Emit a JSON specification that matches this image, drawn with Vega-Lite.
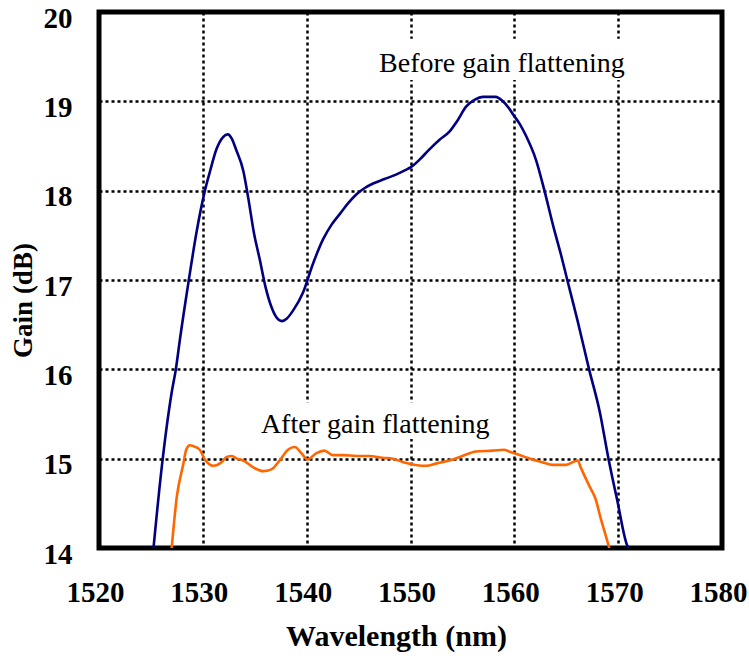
{
  "$schema": "https://vega.github.io/schema/vega-lite/v6.json",
  "autosize": "none",
  "width": 623,
  "height": 536,
  "padding": {"left": 99, "top": 12, "right": 27, "bottom": 113},
  "background": "white",
  "config": {
    "view": {"stroke": "black", "strokeWidth": 5},
    "font": "Liberation Serif"
  },
  "datasets": {
    "curves": [
      {"series": "Before", "wl": 1525.25, "gain": 14.0},
      {"series": "Before", "wl": 1526.0, "gain": 14.86},
      {"series": "Before", "wl": 1527.0, "gain": 15.74},
      {"series": "Before", "wl": 1527.4, "gain": 16.0},
      {"series": "Before", "wl": 1527.8, "gain": 16.34},
      {"series": "Before", "wl": 1528.65, "gain": 17.0},
      {"series": "Before", "wl": 1529.4, "gain": 17.54},
      {"series": "Before", "wl": 1530.2, "gain": 18.0},
      {"series": "Before", "wl": 1530.7, "gain": 18.22},
      {"series": "Before", "wl": 1531.3, "gain": 18.46},
      {"series": "Before", "wl": 1531.95, "gain": 18.6},
      {"series": "Before", "wl": 1532.4, "gain": 18.63},
      {"series": "Before", "wl": 1532.8, "gain": 18.58},
      {"series": "Before", "wl": 1533.2, "gain": 18.46},
      {"series": "Before", "wl": 1533.9, "gain": 18.22},
      {"series": "Before", "wl": 1534.4, "gain": 17.9},
      {"series": "Before", "wl": 1534.9, "gain": 17.54},
      {"series": "Before", "wl": 1535.5, "gain": 17.22},
      {"series": "Before", "wl": 1536.0, "gain": 16.94},
      {"series": "Before", "wl": 1536.6, "gain": 16.7},
      {"series": "Before", "wl": 1537.1, "gain": 16.58},
      {"series": "Before", "wl": 1537.6, "gain": 16.54},
      {"series": "Before", "wl": 1538.1, "gain": 16.57},
      {"series": "Before", "wl": 1538.7, "gain": 16.66},
      {"series": "Before", "wl": 1539.65, "gain": 16.86},
      {"series": "Before", "wl": 1540.6, "gain": 17.18},
      {"series": "Before", "wl": 1541.6, "gain": 17.46},
      {"series": "Before", "wl": 1542.4, "gain": 17.62},
      {"series": "Before", "wl": 1543.2, "gain": 17.74},
      {"series": "Before", "wl": 1544.0, "gain": 17.86},
      {"series": "Before", "wl": 1544.8, "gain": 17.96},
      {"series": "Before", "wl": 1545.6, "gain": 18.03},
      {"series": "Before", "wl": 1546.4, "gain": 18.08},
      {"series": "Before", "wl": 1547.5, "gain": 18.13},
      {"series": "Before", "wl": 1548.6, "gain": 18.18},
      {"series": "Before", "wl": 1549.5, "gain": 18.23},
      {"series": "Before", "wl": 1550.0, "gain": 18.26},
      {"series": "Before", "wl": 1550.9, "gain": 18.35},
      {"series": "Before", "wl": 1551.8, "gain": 18.46},
      {"series": "Before", "wl": 1552.8, "gain": 18.57},
      {"series": "Before", "wl": 1553.75, "gain": 18.66},
      {"series": "Before", "wl": 1554.5, "gain": 18.78},
      {"series": "Before", "wl": 1555.35, "gain": 18.94},
      {"series": "Before", "wl": 1556.2, "gain": 19.02},
      {"series": "Before", "wl": 1556.95, "gain": 19.05},
      {"series": "Before", "wl": 1558.2, "gain": 19.05},
      {"series": "Before", "wl": 1558.9, "gain": 19.0},
      {"series": "Before", "wl": 1559.5, "gain": 18.92},
      {"series": "Before", "wl": 1559.9, "gain": 18.85},
      {"series": "Before", "wl": 1560.5, "gain": 18.75},
      {"series": "Before", "wl": 1561.1, "gain": 18.62},
      {"series": "Before", "wl": 1562.1, "gain": 18.34},
      {"series": "Before", "wl": 1562.9, "gain": 18.0},
      {"series": "Before", "wl": 1563.8, "gain": 17.58},
      {"series": "Before", "wl": 1564.5, "gain": 17.28},
      {"series": "Before", "wl": 1565.1, "gain": 17.0},
      {"series": "Before", "wl": 1566.1, "gain": 16.54},
      {"series": "Before", "wl": 1567.2, "gain": 16.0},
      {"series": "Before", "wl": 1568.2, "gain": 15.54},
      {"series": "Before", "wl": 1569.1, "gain": 14.98},
      {"series": "Before", "wl": 1569.9, "gain": 14.54},
      {"series": "Before", "wl": 1570.9, "gain": 14.02},
      {"series": "Before", "wl": 1571.0, "gain": 14.0},
      {"series": "After", "wl": 1527.0, "gain": 14.0},
      {"series": "After", "wl": 1527.5, "gain": 14.58},
      {"series": "After", "wl": 1528.1, "gain": 14.93},
      {"series": "After", "wl": 1528.4, "gain": 15.1},
      {"series": "After", "wl": 1528.75, "gain": 15.15},
      {"series": "After", "wl": 1529.1, "gain": 15.14},
      {"series": "After", "wl": 1529.7, "gain": 15.1},
      {"series": "After", "wl": 1530.2, "gain": 14.99},
      {"series": "After", "wl": 1531.0, "gain": 14.92},
      {"series": "After", "wl": 1531.8, "gain": 14.96},
      {"series": "After", "wl": 1532.3, "gain": 15.02},
      {"series": "After", "wl": 1532.8, "gain": 15.03},
      {"series": "After", "wl": 1533.3, "gain": 15.0},
      {"series": "After", "wl": 1533.9, "gain": 14.98},
      {"series": "After", "wl": 1534.9, "gain": 14.9},
      {"series": "After", "wl": 1535.8, "gain": 14.86},
      {"series": "After", "wl": 1536.6, "gain": 14.88},
      {"series": "After", "wl": 1537.4, "gain": 14.98},
      {"series": "After", "wl": 1538.2, "gain": 15.1},
      {"series": "After", "wl": 1538.85, "gain": 15.13},
      {"series": "After", "wl": 1539.5, "gain": 15.06},
      {"series": "After", "wl": 1540.1, "gain": 14.99},
      {"series": "After", "wl": 1540.9, "gain": 15.06},
      {"series": "After", "wl": 1541.7, "gain": 15.09},
      {"series": "After", "wl": 1542.5, "gain": 15.04},
      {"series": "After", "wl": 1543.5, "gain": 15.04},
      {"series": "After", "wl": 1544.8, "gain": 15.03},
      {"series": "After", "wl": 1546.0, "gain": 15.03},
      {"series": "After", "wl": 1547.3, "gain": 15.01},
      {"series": "After", "wl": 1548.3, "gain": 15.0},
      {"series": "After", "wl": 1549.3, "gain": 14.96},
      {"series": "After", "wl": 1550.5, "gain": 14.93},
      {"series": "After", "wl": 1551.5, "gain": 14.92},
      {"series": "After", "wl": 1552.6, "gain": 14.95},
      {"series": "After", "wl": 1553.75, "gain": 14.98},
      {"series": "After", "wl": 1555.0, "gain": 15.03},
      {"series": "After", "wl": 1556.3, "gain": 15.08},
      {"series": "After", "wl": 1557.9, "gain": 15.09},
      {"series": "After", "wl": 1559.0, "gain": 15.1},
      {"series": "After", "wl": 1559.5, "gain": 15.08},
      {"series": "After", "wl": 1560.0, "gain": 15.06},
      {"series": "After", "wl": 1561.0, "gain": 15.02},
      {"series": "After", "wl": 1561.75, "gain": 14.99},
      {"series": "After", "wl": 1562.7, "gain": 14.96},
      {"series": "After", "wl": 1563.7, "gain": 14.93},
      {"series": "After", "wl": 1565.0, "gain": 14.93},
      {"series": "After", "wl": 1565.8, "gain": 14.97},
      {"series": "After", "wl": 1566.1, "gain": 14.98},
      {"series": "After", "wl": 1566.4, "gain": 14.9},
      {"series": "After", "wl": 1567.2, "gain": 14.7},
      {"series": "After", "wl": 1567.85, "gain": 14.54},
      {"series": "After", "wl": 1568.3, "gain": 14.34},
      {"series": "After", "wl": 1568.8, "gain": 14.14},
      {"series": "After", "wl": 1569.15, "gain": 14.0}
    ],
    "labels": [
      {"text": "Before gain flattening", "wl": 1558.8, "gain": 19.33, "wl0": 1545.9, "wl1": 1572.0, "g0": 19.24, "g1": 19.7},
      {"text": "After gain flattening", "wl": 1546.6, "gain": 15.29, "wl0": 1534.5, "wl1": 1559.0, "g0": 15.22, "g1": 15.63}
    ]
  },
  "layer": [
    {
      "data": {"name": "labels"},
      "mark": {"type": "rect", "fill": "white", "stroke": null},
      "encoding": {
        "x": {"field": "wl0", "type": "quantitative", "scale": {"domain": [1520, 1580], "nice": false, "zero": false},
          "axis": {
            "values": [1520, 1530, 1540, 1550, 1560, 1570, 1580],
            "format": "d",
            "title": "Wavelength (nm)",
            "titleFont": "Liberation Serif", "titleFontSize": 30, "titleFontWeight": "bold", "titleColor": "black", "titlePadding": 14, "titleX": 297,
            "labelFont": "Liberation Serif", "labelFontSize": 29, "labelFontWeight": "bold", "labelColor": "black",
            "labelPadding": 30, "labelOffset": -4, "labelFlush": false,
            "domain": false, "ticks": false,
            "grid": true, "gridColor": "black", "gridOpacity": 1, "gridWidth": 2.5, "gridDash": [3, 3]
          }},
        "x2": {"field": "wl1"},
        "y": {"field": "g0", "type": "quantitative", "scale": {"domain": [14, 20], "nice": false, "zero": false},
          "axis": {
            "values": [14, 15, 16, 17, 18, 19, 20],
            "format": "d",
            "title": "Gain (dB)",
            "titleFont": "Liberation Serif", "titleFontSize": 27, "titleFontWeight": "bold", "titleColor": "black", "titlePadding": 6, "titleY": 288,
            "labelFont": "Liberation Serif", "labelFontSize": 29, "labelFontWeight": "bold", "labelColor": "black",
            "labelPadding": 27, "labelOffset": 6, "labelFlush": false,
            "domain": false, "ticks": false,
            "grid": true, "gridColor": "black", "gridOpacity": 1, "gridWidth": 2.5, "gridDash": [3, 3]
          }},
        "y2": {"field": "g1"}
      }
    },
    {
      "data": {"name": "curves"},
      "mark": {"type": "line", "strokeWidth": 2.6, "clip": true, "interpolate": "monotone"},
      "encoding": {
        "x": {"field": "wl", "type": "quantitative"},
        "y": {"field": "gain", "type": "quantitative"},
        "color": {"field": "series", "type": "nominal", "scale": {"domain": ["Before", "After"], "range": ["#000080", "#FF6600"]}, "legend": null},
        "order": {"field": "wl", "type": "quantitative"}
      }
    },
    {
      "data": {"name": "labels"},
      "mark": {"type": "text", "font": "Liberation Serif", "fontSize": 28, "color": "black", "baseline": "alphabetic", "align": "center"},
      "encoding": {
        "x": {"field": "wl", "type": "quantitative"},
        "y": {"field": "gain", "type": "quantitative"},
        "text": {"field": "text"}
      }
    }
  ]
}
